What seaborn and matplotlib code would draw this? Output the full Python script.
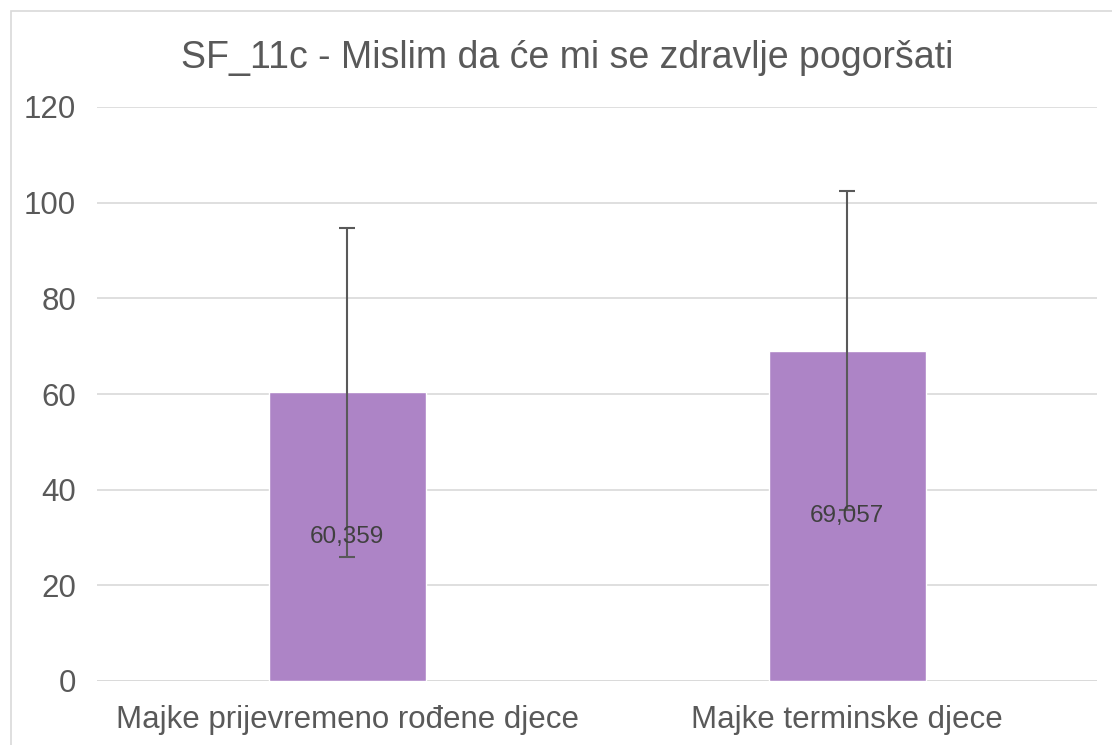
import matplotlib
matplotlib.use("Agg")
import matplotlib.pyplot as plt
from matplotlib.patches import Rectangle
import seaborn as sns
import pandas as pd

# podaci
categories = ["Majke prijevremeno rođene djece", "Majke terminske djece"]
means = [60.359, 69.057]
errors = [34.4, 33.4]
value_labels = ["60,359", "69,057"]

bar_color = "#AD84C6"
text_color = "#595959"

sns.set_theme(style="white")
plt.rcParams['font.family'] = ['Liberation Sans', 'DejaVu Sans']

df = pd.DataFrame({"kategorija": categories, "vrijednost": means})

fig = plt.figure(figsize=(11.12, 7.45), dpi=100)
ax = fig.add_axes([97 / 1112, 1 - 681 / 745, 1000 / 1112, 574 / 745])

sns.barplot(data=df, x="kategorija", y="vrijednost", color=bar_color,
            width=0.314, saturation=1, errorbar=None, ax=ax, zorder=2)
ax.errorbar(range(len(means)), means, yerr=errors, fmt="none",
            ecolor="#595959", elinewidth=1.5, capsize=6, capthick=1.5, zorder=3)

for i, (m, lbl) in enumerate(zip(means, value_labels)):
    ax.text(i, m / 2, lbl, ha="center", va="center", fontsize=17.5,
            color="#404040", zorder=4)

ax.set_ylim(0, 120)
ax.set_xlim(-0.5, 1.5)
ax.set_yticks(range(0, 121, 20))
ax.yaxis.grid(True, color="#D9D9D9", linewidth=1.2, zorder=0)
ax.set_axisbelow(True)
for s in ax.spines.values():
    s.set_visible(False)
ax.axhline(0, color="#D9D9D9", linewidth=1.2, zorder=1)
ax.set_xlabel("")
ax.set_ylabel("")
ax.tick_params(axis="y", labelsize=22.5, colors=text_color, length=0, pad=15)
ax.tick_params(axis="x", labelsize=22.5, colors=text_color, length=0, pad=17)
for t in ax.get_xticklabels() + ax.get_yticklabels():
    t.set_color(text_color)

fig.text(567 / 1112, 1 - 58 / 745, "SF_11c - Mislim da će mi se zdravlje pogoršati",
         ha="center", va="center", fontsize=27, color=text_color)

# okvir grafikona
fig.patches.append(Rectangle((11 / 1112, -0.01), 1.02, 1 - 11 / 745 + 0.01,
                             transform=fig.transFigure, fill=False,
                             edgecolor="#D9D9D9", linewidth=1.2))

fig.savefig("out.png", dpi=100)
